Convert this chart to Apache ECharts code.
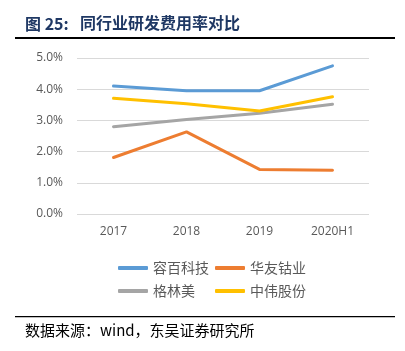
<!DOCTYPE html>
<html><head><meta charset="utf-8">
<script src="https://cdn.jsdelivr.net/npm/echarts@6/dist/echarts.min.js"></script>
<style>html,body{margin:0;padding:0;background:#fff}#c{width:405px;height:351px}</style>
</head><body><div id="c"></div>
<script>
const categories = ['2017', '2018', '2019', '2020H1'];
const seriesNames = ['容百科技', '华友钴业', '格林美', '中伟股份'];
const rongbai = [4.10, 3.95, 3.95, 4.75];
const huayou = [1.81, 2.63, 1.43, 1.40];
const gem = [2.80, 3.03, 3.23, 3.52];
const zhongwei = [3.71, 3.53, 3.30, 3.76];
const yTicks = [0, 1, 2, 3, 4, 5];
const colors = ['#5B9BD5', '#ED7D31', '#A5A5A5', '#FFC000'];
const values = [rongbai, huayou, gem, zhongwei];

const chart = echarts.init(document.getElementById('c'), null, {renderer: 'canvas'});
const lbl = '#595959';
const legendCommon = {
  orient: 'vertical', top: 256, itemWidth: 30, itemHeight: 4, itemGap: 9,
  textStyle: {color: lbl, fontSize: 14, fontFamily: 'Noto Sans CJK SC'},
  icon: 'roundRect'
};
chart.setOption({
  animation: false,
  grid: {left: 77, right: 36, top: 58, bottom: 137, containLabel: false},
  xAxis: {
    type: 'category', data: categories, boundaryGap: true,
    axisLine: {show: false}, axisTick: {show: false},
    axisLabel: {color: lbl, fontSize: 12, fontFamily: 'Open Sans, sans-serif', margin: 12}
  },
  yAxis: {
    type: 'value', min: yTicks[0], max: yTicks[yTicks.length - 1], interval: 1,
    axisLine: {show: false}, axisTick: {show: false},
    splitLine: {lineStyle: {color: '#D9D9D9', width: 1}},
    axisLabel: {color: lbl, fontSize: 12, fontFamily: 'Open Sans, sans-serif', margin: 14,
      formatter: v => v.toFixed(1) + '%'}
  },
  legend: [
    Object.assign({data: [seriesNames[0], seriesNames[2]], left: 113}, legendCommon),
    Object.assign({data: [seriesNames[1], seriesNames[3]], left: 210}, legendCommon)
  ],
  series: seriesNames.map((n, i) => ({
    name: n, type: 'line', data: values[i], symbol: 'none',
    lineStyle: {color: colors[i], width: 3, cap: 'round'},
    itemStyle: {color: colors[i]}
  })),
  graphic: [
    {type: 'text', left: 25, top: 16, style: {text: '图 25:', fill: '#1F3864',
      font: 'bold 16px "Noto Sans CJK SC", "Liberation Serif", serif'}},
    {type: 'text', left: 80, top: 15, style: {text: '同行业研发费用率对比', fill: '#1F3864',
      font: 'bold 16px "Noto Sans CJK SC", sans-serif'}},
    {type: 'rect', shape: {x: 15, y: 37, width: 380, height: 2}, style: {fill: '#000'}},
    {type: 'rect', shape: {x: 15, y: 316, width: 380, height: 1.2}, style: {fill: '#000'}},
    {type: 'text', left: 25, top: 323, style: {text: '数据来源：wind，东吴证券研究所', fill: '#000',
      font: '15px "Noto Sans CJK SC", sans-serif'}}
  ]
});
</script></body></html>
